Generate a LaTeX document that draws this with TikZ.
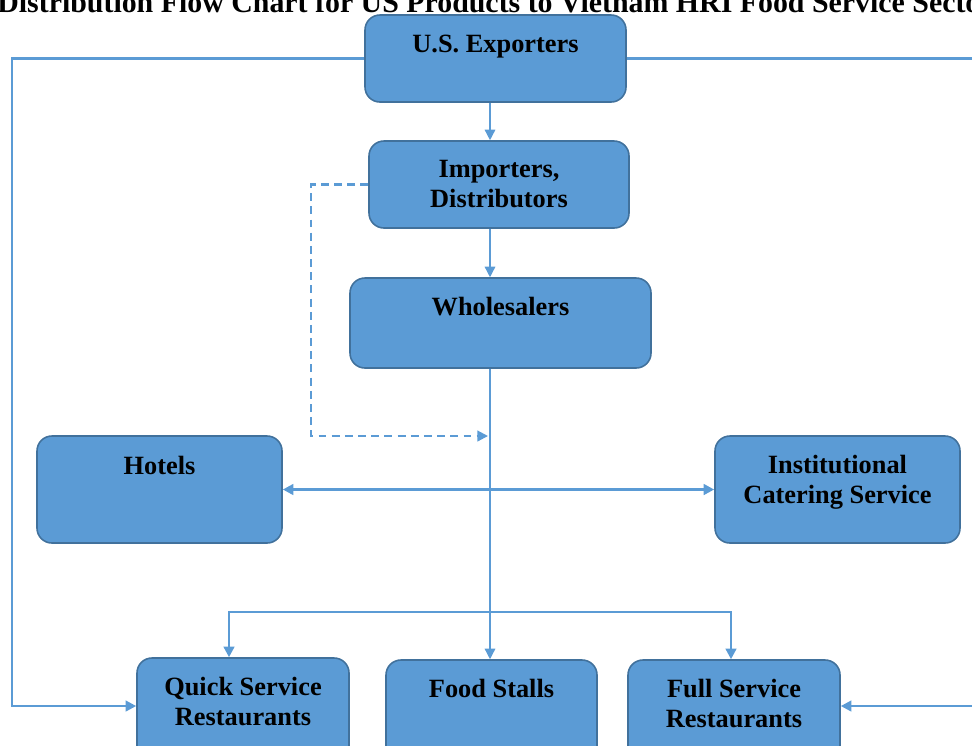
\documentclass[tikz,border=0pt]{standalone}
\usepackage{fontspec}
\setmainfont{Liberation Serif}
\usetikzlibrary{arrows.meta,positioning,calc,fit}
\definecolor{hblue}{HTML}{5B9BD5}
\definecolor{hblued}{HTML}{41719C}
\tikzset{
  % Filled box, the label is set on its own near the top edge.
  org/.style   = {rectangle, rounded corners=8.5pt, draw=hblued, fill=hblue, line width=0.9pt,
                  inner sep=0pt},
  txt/.style   = {font=\bfseries\fontsize{15}{17}\selectfont, align=center, anchor=north,
                  inner sep=0pt},
  ttl/.style   = {font=\bfseries\fontsize{17}{20}\selectfont, inner sep=0pt},
  flow/.style  = {-{Triangle[length=6pt,width=6pt]}, hblue, line width=0.8pt},
  feed/.style  = {flow, line width=1.4pt},
  back/.style  = {flow, dash pattern=on 4.5pt off 3pt, line width=1.2pt},
  both/.style  = {{Triangle[length=6pt,width=6pt]}-{Triangle[length=6pt,width=6pt]}, hblue,
                  line width=1.5pt},
}

\begin{document}
\begin{tikzpicture}[x=0.02cm,y=-0.02cm]
\useasboundingbox (0,0) rectangle (972,745);
\clip (0,0) rectangle (972,745);
\node[ttl, anchor=base west] (title) at (-3,12)
  {Distribution Flow Chart for US Products to Vietnam HRI Food Service Sector};
% boxes
\node[org, fit={(365,15) (626,102)}]  (exp) {};
\node[org, fit={(369,141) (629,228)}] (imp) {};
\node[org, fit={(350,278) (651,368)}] (whl) {};
\node[org, fit={(37,436) (282,543)}]  (hot) {};
\node[org, fit={(715,436) (960,543)}] (ins) {};
\node[org, fit={(137,658) (349,775)}] (qsr) {};
\node[org, fit={(386,660) (597,775)}] (fst) {};
\node[org, fit={(628,660) (840,775)}] (fsr) {};
% labels
\node[txt] (exp-t) at ($(exp.north)+(0,20)$) {U.S. Exporters};
\node[txt] (imp-t) at ($(imp.north)+(0,20)$) {Importers,\\Distributors};
\node[txt] (whl-t) at ($(whl.north)+(0,20)$) {Wholesalers};
\node[txt] (hot-t) at ($(hot.north)+(0,21)$) {Hotels};
\node[txt] (ins-t) at ($(ins.north)+(0,20)$) {Institutional\\Catering Service};
\node[txt] (qsr-t) at ($(qsr.north)+(0,20)$) {Quick Service\\Restaurants};
\node[txt] (fst-t) at ($(fst.north)+(0,20)$) {Food Stalls};
\node[txt] (fsr-t) at ($(fsr.north)+(0,20)$) {Full Service\\Restaurants};
% main chain
\coordinate (spine) at (490,0);
\draw[flow] (exp.south -| spine) -- (imp.north -| spine);
\draw[flow] (imp.south -| spine) -- (whl.north -| spine);
\draw[flow] (whl.south -| spine) -- (fst.north -| spine);
% importers straight to the trade, dashed
\coordinate (merge) at (488,436);
\draw[back] (imp.west) -| (311,436) -- (merge);
\draw[both] (hot.east) -- (ins.west);
% split to the restaurants
\coordinate (bl) at (229,612);
\coordinate (br) at (731,612);
\draw[both, line width=1.4pt] (qsr.north -| bl) -- (bl) -- (br) -- (fsr.north -| br);
% direct from exporters
\coordinate (lft) at (12,706);
\coordinate (rgt) at (990,706);
\draw[feed] (exp.west) -| (lft) -- (lft -| qsr.west);
\draw[feed] (exp.east) -| (rgt) -- (rgt -| fsr.east);
\end{tikzpicture}
\end{document}
